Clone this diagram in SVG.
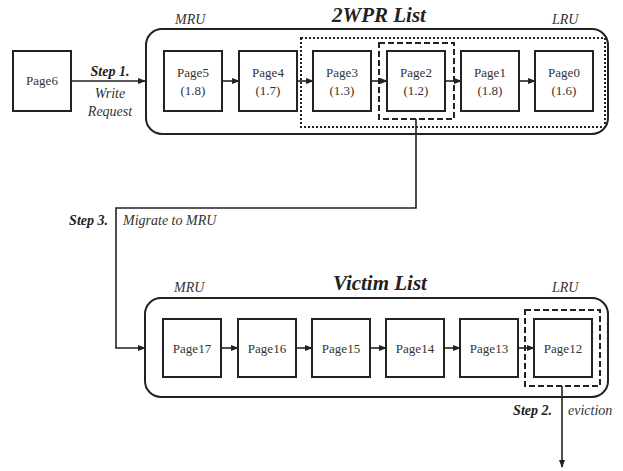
<svg xmlns="http://www.w3.org/2000/svg" width="623" height="471" viewBox="0 0 623 471">
<defs>
<marker id="ah" markerWidth="8" markerHeight="6" refX="7" refY="3" orient="auto" markerUnits="userSpaceOnUse"><path d="M0,0 L8,3 L0,6 z" fill="#222"/></marker>
<style>
text{font-family:'Liberation Serif','Times New Roman',Times,'DejaVu Serif',serif}
.pg{fill:#fff;stroke:#222;stroke-width:2}
.grp{fill:none;stroke:#222;stroke-width:2}
.t{font-size:13px;fill:#333;text-anchor:middle}
.it{font-style:italic;font-size:14px;fill:#333}
.bi{font-style:italic;font-weight:bold;font-size:14px;fill:#222}
.ttl{font-style:italic;font-weight:bold;font-size:21px;fill:#222;text-anchor:middle}
.ar{fill:none;stroke:#222;stroke-width:1.6;marker-end:url(#ah)}
</style>
</defs>
<rect width="623" height="471" fill="#fff"/>
<g id="wpr-list">
<rect class="grp" x="146" y="29" width="462" height="105" rx="16"/>
<text class="ttl" x="379" y="22">2WPR List</text>
<text class="it" x="175" y="24">MRU</text>
<text class="it" x="552" y="24">LRU</text>
</g>
<g id="victim-list">
<rect class="grp" x="145" y="298" width="463" height="99" rx="16"/>
<text class="ttl" x="380" y="290">Victim List</text>
<text class="it" x="174" y="292">MRU</text>
<text class="it" x="552" y="292">LRU</text>
</g>
<g id="candidates">
<rect x="301" y="38" width="304" height="89" fill="none" stroke="#222" stroke-width="2" stroke-dasharray="2,2"/>
</g>
<g id="page6"><rect class="pg" x="13" y="51" width="58" height="60"/><text class="t" x="42" y="85">Page6</text></g>
<g id="page5"><rect class="pg" x="164" y="51" width="58" height="60"/><text class="t" x="193" y="77">Page5</text><text class="t" x="193" y="95">(1.8)</text></g>
<g id="page4"><rect class="pg" x="239" y="51" width="58" height="60"/><text class="t" x="268" y="77">Page4</text><text class="t" x="268" y="95">(1.7)</text></g>
<g id="page3"><rect class="pg" x="313" y="51" width="58" height="60"/><text class="t" x="342" y="77">Page3</text><text class="t" x="342" y="95">(1.3)</text></g>
<g id="page2"><rect class="pg" x="387" y="51" width="58" height="60"/><text class="t" x="416" y="77">Page2</text><text class="t" x="416" y="95">(1.2)</text>
<rect x="379" y="43" width="75" height="76" fill="none" stroke="#222" stroke-width="2" stroke-dasharray="6,3"/></g>
<g id="page1"><rect class="pg" x="461" y="51" width="58" height="60"/><text class="t" x="490" y="77">Page1</text><text class="t" x="490" y="95">(1.8)</text></g>
<g id="page0"><rect class="pg" x="535" y="51" width="58" height="60"/><text class="t" x="564" y="77">Page0</text><text class="t" x="564" y="95">(1.6)</text></g>
<g id="page17"><rect class="pg" x="163" y="319" width="58" height="58"/><text class="t" x="192" y="353">Page17</text></g>
<g id="page16"><rect class="pg" x="238" y="319" width="58" height="58"/><text class="t" x="267" y="353">Page16</text></g>
<g id="page15"><rect class="pg" x="312" y="319" width="58" height="58"/><text class="t" x="341" y="353">Page15</text></g>
<g id="page14"><rect class="pg" x="386" y="319" width="58" height="58"/><text class="t" x="415" y="353">Page14</text></g>
<g id="page13"><rect class="pg" x="460" y="319" width="58" height="58"/><text class="t" x="489" y="353">Page13</text></g>
<g id="page12"><rect class="pg" x="534" y="319" width="58" height="58"/><text class="t" x="563" y="353">Page12</text>
<rect x="525" y="310" width="75" height="76" fill="none" stroke="#222" stroke-width="2" stroke-dasharray="6,3"/></g>
<g id="connectors">
<path class="ar" d="M71,81 H145"/>
<path class="ar" d="M222,81 H239"/>
<path class="ar" d="M297,81 H313"/>
<path class="ar" d="M371,81 H387"/>
<path class="ar" d="M445,81 H461"/>
<path class="ar" d="M519,81 H535"/>
<path class="ar" d="M416,119 V208 H116 V348 H145"/>
<path class="ar" d="M221,348 H238"/>
<path class="ar" d="M296,348 H312"/>
<path class="ar" d="M370,348 H386"/>
<path class="ar" d="M444,348 H460"/>
<path class="ar" d="M518,348 H534"/>
<path class="ar" d="M562,386 V467"/>
</g>
<g id="labels">
<text class="bi" x="110" y="76" text-anchor="middle">Step 1.</text>
<text class="it" x="110" y="98" text-anchor="middle">Write</text>
<text class="it" x="110" y="116" text-anchor="middle">Request</text>
<text class="bi" x="108" y="225" text-anchor="end">Step 3.</text>
<text class="it" x="123" y="225">Migrate to MRU</text>
<text class="bi" x="552" y="415" text-anchor="end">Step 2.</text>
<text class="it" x="568" y="415">eviction</text>
</g>
</svg>
